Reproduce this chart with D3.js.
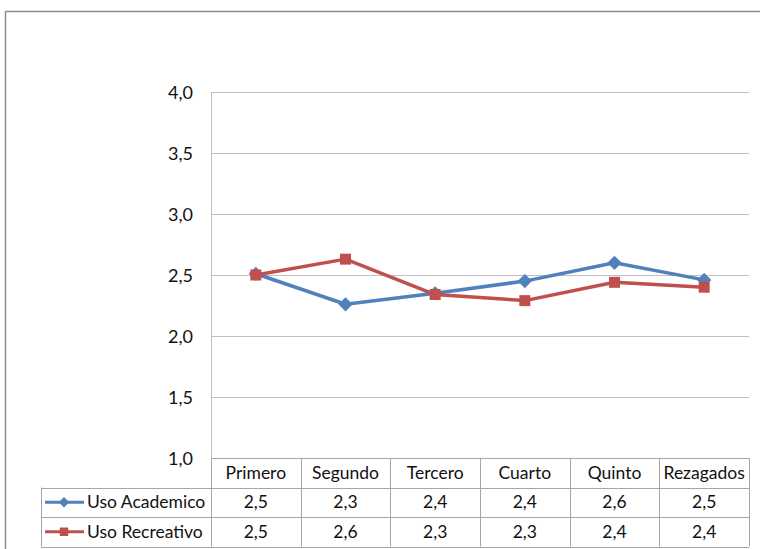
<!DOCTYPE html>
<html>
<head>
<meta charset="utf-8">
<script src="https://cdn.jsdelivr.net/npm/d3@7"></script>
<style>
  body { margin: 0; background: #fff; }
  svg text { font-family: Lato, "Open Sans", sans-serif; font-size: 17.5px; fill: #111; }
</style>
</head>
<body>
<svg id="chart" width="760" height="549"></svg>
<script>
// data
var categories = ["Primero", "Segundo", "Tercero", "Cuarto", "Quinto", "Rezagados"];
var academico = [2.51, 2.26, 2.35, 2.45, 2.60, 2.46];
var recreativo = [2.50, 2.63, 2.34, 2.29, 2.44, 2.40];
var academicoLabels = ["2,5", "2,3", "2,4", "2,4", "2,6", "2,5"];
var recreativoLabels = ["2,5", "2,6", "2,3", "2,3", "2,4", "2,4"];
var yTicks = [1.0, 1.5, 2.0, 2.5, 3.0, 3.5, 4.0];

var series = [
  { name: "Uso Academico", values: academico, labels: academicoLabels, color: "#4f81bd", marker: "diamond" },
  { name: "Uso Recreativo", values: recreativo, labels: recreativoLabels, color: "#c0504d", marker: "square" }
];

var svg = d3.select("#chart");

// outer frame of the chart object
svg.append("rect")
  .attr("x", 5.5).attr("y", 11.5)
  .attr("width", 820).attr("height", 600)
  .attr("fill", "none")
  .attr("stroke", "#8c8c8c")
  .attr("stroke-width", 1.5);

var plot = { left: 211, right: 749, top: 92, bottom: 458 };
var rowH = 29.5;
var legendLeft = 41;

var x = d3.scaleBand().domain(categories).range([plot.left, plot.right]);
var y = d3.scaleLinear().domain([1, 4]).range([plot.bottom, plot.top]);
var fmt = function(v) { return d3.format(".1f")(v).replace(".", ","); };

// gridlines
svg.append("g")
  .selectAll("line")
  .data(yTicks)
  .enter().append("line")
  .attr("x1", plot.left).attr("x2", plot.right)
  .attr("y1", function(d) { return Math.round(y(d)) + 0.5; })
  .attr("y2", function(d) { return Math.round(y(d)) + 0.5; })
  .attr("stroke", "#bfbfbf");

// y axis line
svg.append("line")
  .attr("x1", plot.left + 0.5).attr("x2", plot.left + 0.5)
  .attr("y1", plot.top).attr("y2", plot.bottom)
  .attr("stroke", "#bfbfbf");

// y tick labels
svg.append("g")
  .selectAll("text")
  .data(yTicks)
  .enter().append("text")
  .attr("x", 193)
  .attr("y", function(d) { return y(d); })
  .attr("dy", "0.4em")
  .attr("text-anchor", "end")
  .style("font-size", "18px")
  .text(fmt);

// data table
var table = svg.append("g").attr("stroke", "#a6a6a6").attr("fill", "none");
var tBottom = plot.bottom + rowH * 3;
// horizontal lines
table.append("line").attr("x1", plot.left).attr("x2", plot.right)
  .attr("y1", plot.bottom + 0.5).attr("y2", plot.bottom + 0.5);
[1, 2, 3].forEach(function(r) {
  var yy = Math.round(plot.bottom + rowH * r) + 0.5;
  table.append("line").attr("x1", legendLeft).attr("x2", plot.right)
    .attr("y1", yy).attr("y2", yy);
});
// vertical lines
x.domain().concat(["_end"]).forEach(function(c, i) {
  var xx = Math.round(plot.left + x.bandwidth() * i) + 0.5;
  table.append("line").attr("x1", xx).attr("x2", xx)
    .attr("y1", plot.bottom).attr("y2", tBottom);
});
table.append("line").attr("x1", legendLeft + 0.5).attr("x2", legendLeft + 0.5)
  .attr("y1", plot.bottom + rowH).attr("y2", tBottom);

// header row
svg.append("g")
  .selectAll("text")
  .data(categories)
  .enter().append("text")
  .attr("x", function(d) { return x(d) + x.bandwidth() / 2; })
  .attr("y", plot.bottom + rowH / 2)
  .attr("dy", "0.35em")
  .attr("text-anchor", "middle")
  .text(function(d) { return d; });

var diamond = d3.symbol().type(d3.symbolDiamond2).size(130);
var square = d3.symbol().type(d3.symbolSquare).size(121);

series.forEach(function(s, si) {
  var rowY = plot.bottom + rowH * (si + 1) + rowH / 2;
  var sym = s.marker == "diamond" ? diamond : square;

  // value cells
  svg.append("g")
    .selectAll("text")
    .data(s.labels)
    .enter().append("text")
    .attr("x", function(d, i) { return x(categories[i]) + x.bandwidth() / 2; })
    .attr("y", rowY)
    .attr("dy", "0.35em")
    .attr("text-anchor", "middle")
    .text(function(d) { return d; });

  // legend key
  svg.append("line")
    .attr("x1", 45).attr("x2", 84)
    .attr("y1", rowY).attr("y2", rowY)
    .attr("stroke", s.color).attr("stroke-width", 3);
  svg.append("path")
    .attr("d", s.marker == "diamond" ? d3.symbol().type(d3.symbolDiamond2).size(70)() : d3.symbol().type(d3.symbolSquare).size(72)())
    .attr("transform", "translate(64," + rowY + ")")
    .attr("fill", s.color);
  svg.append("text")
    .attr("x", 87).attr("y", rowY)
    .attr("dy", "0.35em")
    .text(s.name);

  // line
  var line = d3.line()
    .x(function(d, i) { return x(categories[i]) + x.bandwidth() / 2; })
    .y(function(d) { return y(d); });
  svg.append("path")
    .datum(s.values)
    .attr("d", line)
    .attr("fill", "none")
    .attr("stroke", s.color)
    .attr("stroke-width", 3.5)
    .attr("stroke-linejoin", "round");

  svg.append("g")
    .selectAll("path")
    .data(s.values)
    .enter().append("path")
    .attr("d", sym)
    .attr("transform", function(d, i) {
      return "translate(" + (x(categories[i]) + x.bandwidth() / 2) + "," + y(d) + ")";
    })
    .attr("fill", s.color);
});
</script>
</body>
</html>
